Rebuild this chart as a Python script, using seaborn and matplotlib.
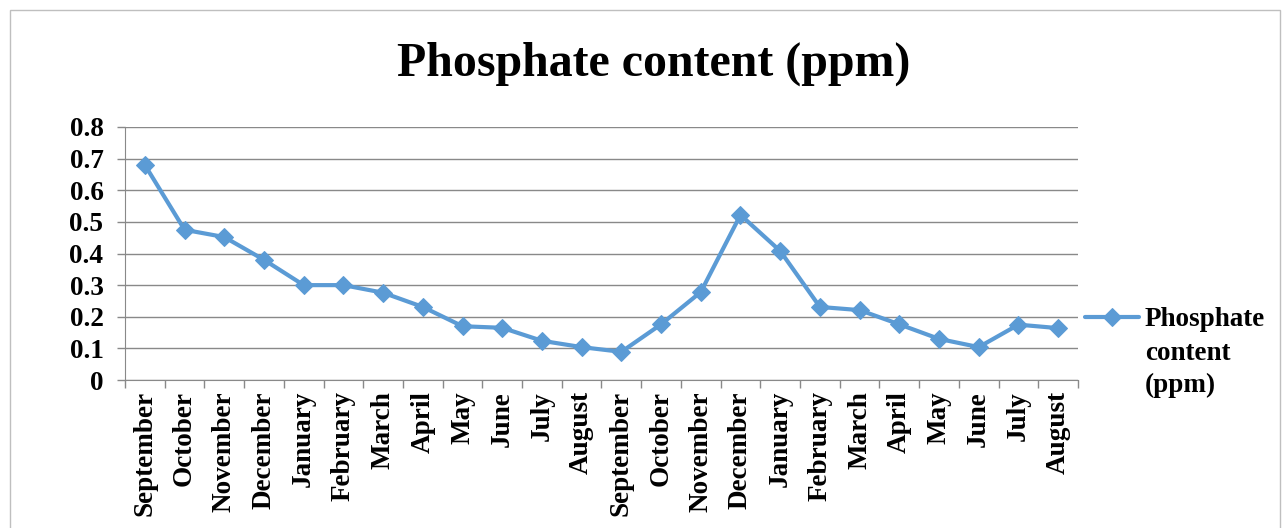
import pandas as pd
import matplotlib.pyplot as plt
import matplotlib.patches as mpatches
import seaborn as sns

months = ["September", "October", "November", "December", "January", "February",
          "March", "April", "May", "June", "July", "August",
          "September", "October", "November", "December", "January", "February",
          "March", "April", "May", "June", "July", "August"]
phosphate = [0.68, 0.475, 0.452, 0.38, 0.30, 0.30, 0.276, 0.231, 0.17, 0.165, 0.124, 0.104,
             0.089, 0.176, 0.278, 0.522, 0.408, 0.231, 0.221, 0.176, 0.13, 0.104, 0.175, 0.164]
series_name = "Phosphate content (ppm)"

df = pd.DataFrame({"idx": range(len(months)), "Month": months, "Value": phosphate})

sns.set_style("white")
plt.rcParams["font.family"] = ["Liberation Serif", "DejaVu Serif"]
plt.rcParams["font.weight"] = "bold"
plt.rcParams["text.color"] = "black"
plt.rcParams["xtick.color"] = "black"
plt.rcParams["ytick.color"] = "black"

blue = "#5B9BD5"
grey = "#898989"

fig = plt.figure(figsize=(12.83, 5.28), dpi=100)
ax = fig.add_axes([125 / 1283, 1 - 380 / 528, (1078 - 125) / 1283, (380 - 127) / 528])

sns.lineplot(data=df, x="idx", y="Value", ax=ax, color=blue, linewidth=3.0,
             marker="D", markersize=9.5, markeredgecolor=blue, label="Phosphate")

ax.set_xlim(-0.5, len(months) - 0.5)
ax.set_ylim(0, 0.8)
ax.set_yticks([0, 0.1, 0.2, 0.3, 0.4, 0.5, 0.6, 0.7, 0.8])
ax.set_yticklabels(["0", "0.1", "0.2", "0.3", "0.4", "0.5", "0.6", "0.7", "0.8"],
                   fontsize=19.5, fontweight="bold")
ax.set_xticks(range(len(months)))
ax.set_xticklabels(months, rotation=90, fontsize=19.5, fontweight="bold")
ax.tick_params(axis="x", length=0, pad=8)
ax.tick_params(axis="y", length=6, color=grey, width=1, direction="out", pad=9.5, left=True)
# category boundary ticks
ax.set_xticks([i - 0.5 for i in range(len(months) + 1)], minor=True)
ax.tick_params(axis="x", which="minor", length=6, color=grey, width=1, direction="out", bottom=True)

ax.grid(axis="y", color=grey, linewidth=1)
ax.set_axisbelow(True)
for s in ["top", "right"]:
    ax.spines[s].set_visible(False)
ax.spines["left"].set_color(grey)
ax.spines["bottom"].set_color(grey)
ax.set_xlabel("")
ax.set_ylabel("")

fig.text(654 / 1283, 1 - 64 / 528, series_name, ha="center", va="center",
         fontsize=34.5, fontweight="bold")

# legend: marker line beside first line, rest of the wrapped name below
ax.legend(loc="center left", bbox_to_anchor=(1085 / 1283, 1 - 320 / 528),
          bbox_transform=fig.transFigure, frameon=False, borderpad=0, borderaxespad=0,
          prop={"size": 19.5, "weight": "bold"}, handlelength=2.0, handletextpad=0.2)
fig.text(1145 / 1283, 1 - 353 / 528, "content", ha="left", va="center",
         fontsize=19.5, fontweight="bold")
fig.text(1145 / 1283, 1 - 385 / 528, "(ppm)", ha="left", va="center",
         fontsize=19.5, fontweight="bold")

fig.add_artist(mpatches.Rectangle((10 / 1283, -0.05), (1280 - 10) / 1283, 1.05 - 10 / 528,
                                  transform=fig.transFigure, fill=False,
                                  edgecolor="#BFBFBF", linewidth=1))

fig.savefig("out.png", dpi=100)
